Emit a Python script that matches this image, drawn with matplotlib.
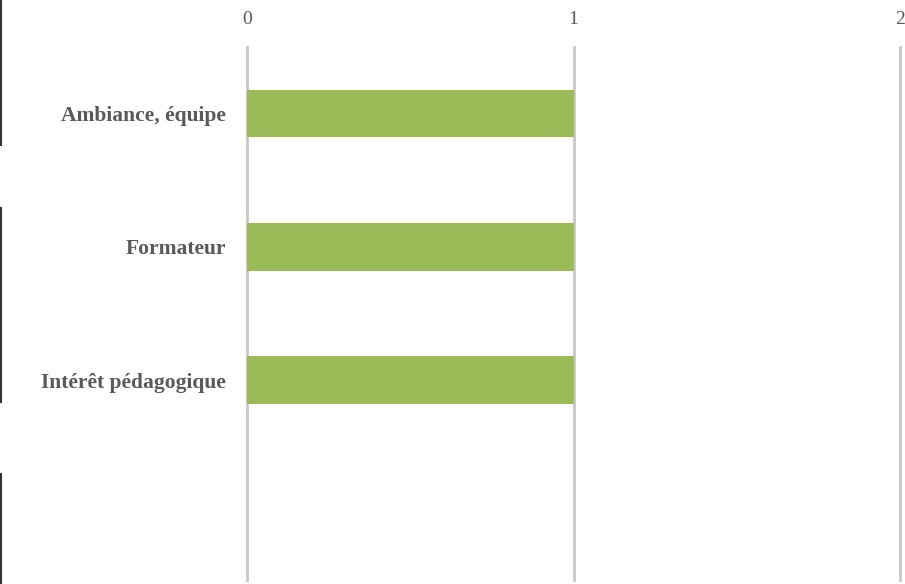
import numpy as np
import matplotlib.pyplot as plt
from matplotlib.lines import Line2D

# data
categories = ['Ambiance, équipe', 'Formateur', 'Intérêt pédagogique', '']
values = [1, 1, 1, 0]
x_ticks = [0, 1, 2]

bar_color = '#9BBB59'
grid_color = '#C8C8C8'
text_color = '#595959'

fig = plt.figure(figsize=(9.05, 5.84), dpi=100)
ax = fig.add_axes([247 / 905, 1 - 580 / 584, (900 - 247) / 905, (580 - 47) / 584])

y = np.arange(len(categories))
ax.barh(y, values, height=0.355, color=bar_color, linewidth=0, zorder=3)

ax.set_xlim(0, 2)
ax.set_ylim(len(categories) - 0.5, -0.5)
ax.set_xticks(x_ticks)
ax.set_xticklabels([str(t) for t in x_ticks], family='Liberation Serif',
                   fontsize=14, color=text_color)
ax.set_yticks(y)
ax.set_yticklabels(categories, family='Liberation Serif', fontweight='bold',
                   fontsize=15.5, color=text_color)
ax.xaxis.tick_top()
ax.tick_params(axis='x', length=0, pad=14)
ax.tick_params(axis='y', length=0, pad=15)

for s in ax.spines.values():
    s.set_visible(False)
ax.grid(axis='x', color=grid_color, linewidth=2, zorder=0)
ax.grid(axis='y', visible=False)
for gl in ax.get_xgridlines():
    gl.set_clip_on(False)

# dark segments on the left edge of the image
for y0, y1 in [(0, 145), (208, 402), (474, 584)]:
    fig.add_artist(Line2D([1 / 905, 1 / 905], [1 - y0 / 584, 1 - y1 / 584],
                          color='#333333', linewidth=1.5, transform=fig.transFigure))

fig.savefig('out.png', dpi=100)
